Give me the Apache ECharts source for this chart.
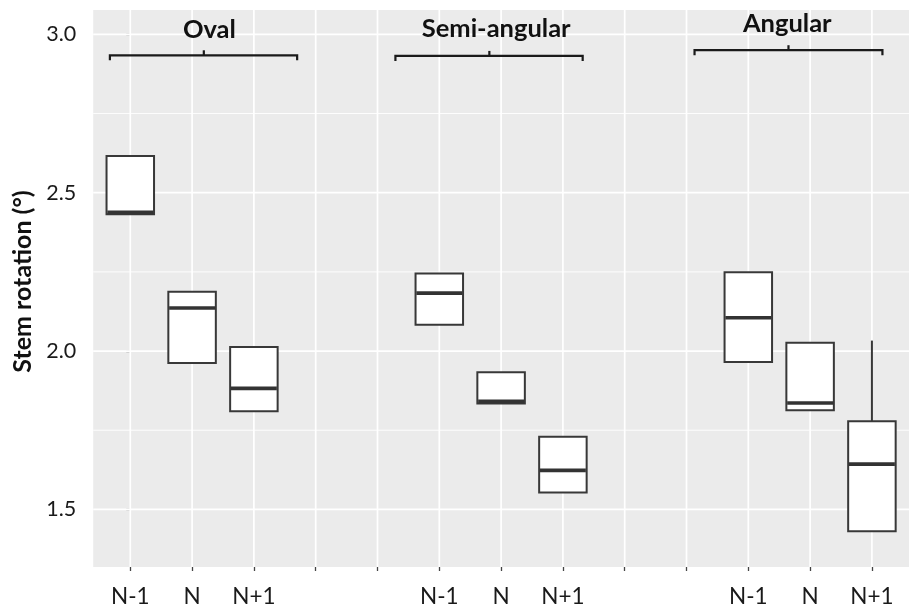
<!DOCTYPE html>
<html><head><meta charset="utf-8">
<script src="https://cdn.jsdelivr.net/npm/echarts@6/dist/echarts.min.js"></script>
<style>html,body{margin:0;padding:0;background:#fff}#c{width:909px;height:608px}</style>
</head><body><div id="c"></div>
<script>
// ---- data ----
const groups = ['Oval', 'Semi-angular', 'Angular'];
const positions = ['N-1', 'N', 'N+1'];
// five-number summaries [min, Q1, median, Q3, max] for N-1, N, N+1
const ovalBoxes    = [[2.432, 2.432, 2.438, 2.616, 2.616], [1.962, 1.962, 2.136, 2.187, 2.187], [1.810, 1.810, 1.882, 2.013, 2.013]];
const semiBoxes    = [[2.083, 2.083, 2.183, 2.245, 2.245], [1.834, 1.834, 1.841, 1.933, 1.933], [1.553, 1.553, 1.623, 1.729, 1.729]];
const angularBoxes = [[1.965, 1.965, 2.105, 2.249, 2.249], [1.813, 1.813, 1.836, 2.026, 2.026], [1.431, 1.431, 1.643, 1.778, 2.033]];
const yTickValues = [1.5, 2.0, 2.5, 3.0];
const yTickLabels = ['1.5', '2.0', '2.5', '3.0'];
const yMinorValues = [1.75, 2.25, 2.75];
// group brackets (x in slot units, y in data units)
const bracketFrom = [-0.33, 4.29, 9.13];
const bracketTo   = [2.70, 7.32, 12.17];
const bracketMid  = [1.19, 5.81, 10.65];
const bracketY    = [2.934, 2.932, 2.950];
const labelX      = [1.28, 5.92, 10.63];
const labelY      = [3.014, 3.019, 3.032];

// ---- build ----
const slotsPerGroup = 5; // 3 positions + 2 empty slots
const nSlots = groups.length * slotsPerGroup - 2;
const allGroupBoxes = [ovalBoxes, semiBoxes, angularBoxes];
const boxData = [];
allGroupBoxes.forEach((boxes, g) => boxes.forEach((b, i) => boxData.push([g * slotsPerGroup + i].concat(b))));
const slotValues = Array.from({length: nSlots}, (_, i) => i);
const labelFor = v => { const k = Math.round(v) % slotsPerGroup; return k < positions.length ? positions[k] : ''; };

const BOX_W = 47.5;
const BOX_STROKE = '#383838';
const chart = echarts.init(document.getElementById('c'), null, {renderer: 'canvas'});
chart.setOption({
  backgroundColor: '#ffffff',
  animation: false,
  textStyle: {fontFamily: 'Lato'},
  grid: {left: 93.2, top: 10, width: 826, height: 557, show: true, backgroundColor: '#EBEBEB', borderWidth: 0},
  xAxis: {
    type: 'value', min: -0.6, max: 12.6,
    axisLine: {show: false},
    splitLine: {show: false},
    axisTick: {show: true, customValues: slotValues, length: 4, lineStyle: {color: '#444', width: 1.3}},
    axisLabel: {customValues: slotValues.filter(v => labelFor(v) !== ''), formatter: v => labelFor(v), margin: 18, fontSize: 22.5, color: '#1a1a1a', fontFamily: 'Lato'}
  },
  yAxis: {
    type: 'value', min: 1.318, max: 3.077,
    name: 'Stem rotation (°)', nameLocation: 'middle', nameGap: 57,
    nameTextStyle: {fontSize: 25, fontWeight: 'bold', color: '#111', fontFamily: 'Lato', padding: [0, 0, 0, 14]},
    axisLine: {show: false},
    splitLine: {show: false},
    axisTick: {show: true, customValues: yTickValues, length: 4, lineStyle: {color: '#444', width: 1.3}},
    axisLabel: {customValues: yTickValues, formatter: v => yTickLabels[yTickValues.indexOf(+(+v).toFixed(2))] || v.toFixed(1), margin: 17, fontSize: 21.5, color: '#1a1a1a', fontFamily: 'Lato'}
  },
  series: [
    { // horizontal grid lines
      type: 'custom', silent: true, z: 1, clip: true,
      data: yTickValues.map(v => [v, 1.7]).concat(yMinorValues.map(v => [v, 0.9])),
      renderItem: (p, api) => {
        const cs = p.coordSys; const y = api.coord([0, api.value(0)])[1];
        return {type: 'line', shape: {x1: cs.x, y1: y, x2: cs.x + cs.width, y2: y}, style: {stroke: '#ffffff', lineWidth: api.value(1)}};
      }
    },
    { // vertical grid lines
      type: 'custom', silent: true, z: 1, clip: true,
      data: slotValues.map(v => [v]),
      renderItem: (p, api) => {
        const cs = p.coordSys; const x = api.coord([api.value(0), 2])[0];
        return {type: 'line', shape: {x1: x, y1: cs.y, x2: x, y2: cs.y + cs.height}, style: {stroke: '#ffffff', lineWidth: 1.7}};
      }
    },
    { // box plots (ggplot style: no whisker caps)
      type: 'custom', silent: true, z: 3,
      data: boxData,
      encode: {x: 0, y: [1, 2, 3, 4, 5]},
      renderItem: (p, api) => {
        const s = api.value(0);
        const pMin = api.coord([s, api.value(1)]);
        const pQ1 = api.coord([s, api.value(2)]);
        const pMed = api.coord([s, api.value(3)]);
        const pQ3 = api.coord([s, api.value(4)]);
        const pMax = api.coord([s, api.value(5)]);
        const cx = pQ1[0], hw = BOX_W / 2;
        const ln = {stroke: BOX_STROKE, lineWidth: 2};
        const children = [];
        if (pMax[1] < pQ3[1] - 0.5) children.push({type: 'line', shape: {x1: cx, y1: pMax[1], x2: cx, y2: pQ3[1]}, style: ln});
        if (pMin[1] > pQ1[1] + 0.5) children.push({type: 'line', shape: {x1: cx, y1: pQ1[1], x2: cx, y2: pMin[1]}, style: ln});
        children.push({type: 'rect', shape: {x: cx - hw, y: pQ3[1], width: BOX_W, height: pQ1[1] - pQ3[1]}, style: {fill: '#ffffff', stroke: BOX_STROKE, lineWidth: 2}});
        children.push({type: 'line', shape: {x1: cx - hw + 0.8, y1: pMed[1], x2: cx + hw - 0.8, y2: pMed[1]}, style: {stroke: '#333333', lineWidth: 3.6}});
        return {type: 'group', children};
      }
    },
    { // group brackets and labels
      type: 'custom', silent: true, z: 5, clip: false,
      data: groups.map((g, i) => [bracketFrom[i], bracketTo[i], bracketMid[i], bracketY[i], labelX[i], labelY[i], i]),
      renderItem: (p, api) => {
        const a = api.coord([api.value(0), api.value(3)]);
        const b = api.coord([api.value(1), api.value(3)]);
        const m = api.coord([api.value(2), api.value(3)]);
        const t = api.coord([api.value(4), api.value(5)]);
        const st = {stroke: '#1a1a1a', lineWidth: 2.2, fill: null};
        return {type: 'group', children: [
          {type: 'polyline', shape: {points: [[a[0], a[1] + 5], [a[0], a[1]], [b[0], b[1]], [b[0], b[1] + 5]]}, style: st},
          {type: 'line', shape: {x1: m[0], y1: m[1], x2: m[0], y2: m[1] - 5}, style: st},
          {type: 'text', x: t[0], y: t[1], style: {text: groups[api.value(6)], fontFamily: 'Lato', fontWeight: 'bold', fontSize: 25.5, fill: '#111', align: 'center', verticalAlign: 'middle'}}
        ]};
      }
    }
  ]
});
</script></body></html>
